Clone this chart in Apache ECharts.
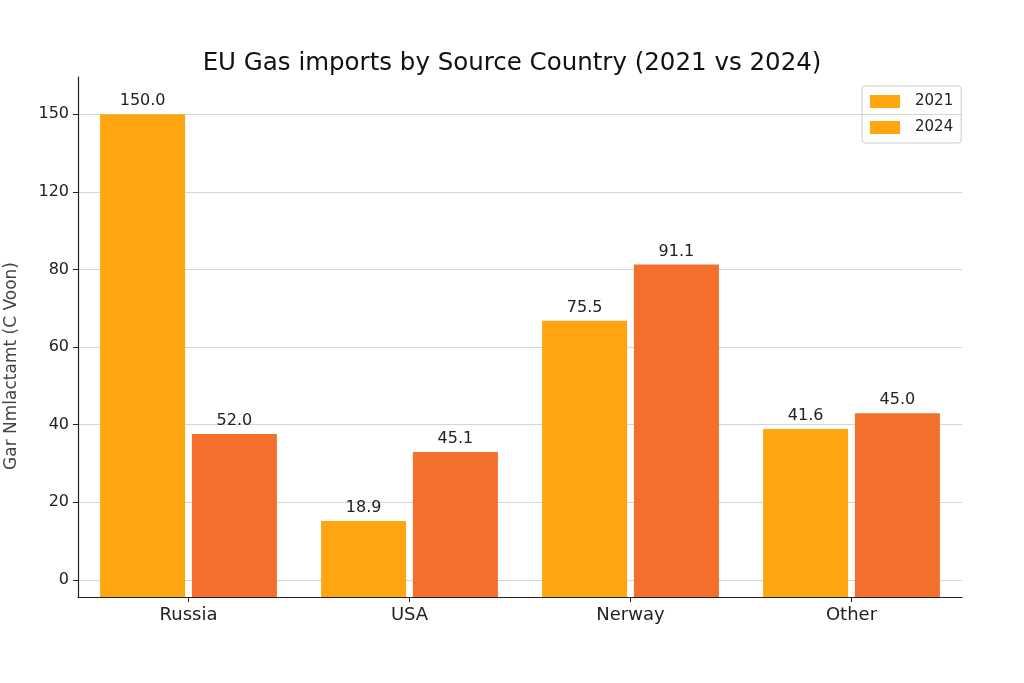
<!DOCTYPE html>
<html>
<head>
<meta charset="utf-8">
<script src="https://cdn.jsdelivr.net/npm/echarts@6/dist/echarts.min.js"></script>
<style>
  html, body { margin: 0; padding: 0; background: #fff; }
  #chart { width: 1024px; height: 683px; }
</style>
</head>
<body>
<div id="chart"></div>
<script>
const countries = ["Russia", "USA", "Nerway", "Other"];
const years = ["2021", "2024"];
const values2021 = [150, 19.0, 83.5, 48.6];
const values2024 = [47.0, 41.2, 101.6, 53.7];
const labels2021 = ["150.0", "18.9", "75.5", "41.6"];
const labels2024 = ["52.0", "45.1", "91.1", "45.0"];
const tickValues = [0, 25, 50, 75, 100, 125, 150];
const tickLabels = ["0", "20", "40", "60", "80", "120", "150"];

const AXIS_MIN = -5.5;
const AXIS_MAX = 162;
const FONT = "DejaVu Sans";
const C2021 = "#fea510";
const C2024 = "#f46e2c";

const chart = echarts.init(document.getElementById("chart"));

const barSeries = (name, values, labels, color) => ({
  name: name,
  type: "bar",
  stack: name,
  data: values,
  barWidth: 85,
  barGap: "8%",
  itemStyle: { color: color },
  label: {
    show: true,
    position: "top",
    distance: 5,
    fontFamily: FONT,
    fontSize: 16,
    color: "#222",
    formatter: (p) => labels[p.dataIndex],
  },
  z: 3,
});

// bars in the picture run down past 0 to the axis bottom
const baseSeries = (name, color) => ({
  name: name + "_base",
  type: "bar",
  stack: name,
  data: countries.map(() => AXIS_MIN),
  barWidth: 85,
  barGap: "8%",
  itemStyle: { color: color },
  silent: true,
  z: 3,
});

const option = {
  animation: false,
  backgroundColor: "#fff",
  title: {
    text: "EU Gas imports by Source Country (2021 vs 2024)",
    left: "center",
    top: 46,
    textStyle: { fontFamily: FONT, fontSize: 24.5, fontWeight: "normal", color: "#111" },
  },
  legend: {
    data: [
      { name: "2021", itemStyle: { color: C2021 } },
      { name: "2024", itemStyle: { color: C2021 } },
    ],
    orient: "vertical",
    left: 862,
    top: 86,
    itemWidth: 30,
    itemHeight: 13,
    itemGap: 11,
    padding: [8, 8, 8, 8],
    borderColor: "#ccc",
    borderWidth: 1,
    borderRadius: 3,
    icon: "rect",
    textStyle: { fontFamily: FONT, fontSize: 15, color: "#222", padding: [0, 0, 0, 10] },
  },
  grid: { left: 78, right: 62, top: 77, bottom: 86, containLabel: false },
  xAxis: {
    type: "category",
    data: countries,
    axisLine: { onZero: false, lineStyle: { color: "#222", width: 1.2 } },
    axisTick: { show: true, alignWithLabel: true, length: 5, lineStyle: { color: "#222" } },
    axisLabel: { fontFamily: FONT, fontSize: 18, color: "#222", margin: 9 },
  },
  yAxis: {
    type: "value",
    min: AXIS_MIN,
    max: AXIS_MAX,
    axisLine: { show: true, lineStyle: { color: "#222", width: 1.2 } },
    axisTick: { show: true, length: 5, customValues: tickValues, lineStyle: { color: "#222" } },
    axisLabel: {
      fontFamily: FONT,
      fontSize: 16,
      color: "#222",
      margin: 9,
      customValues: tickValues,
      formatter: (v) => tickLabels[tickValues.indexOf(Math.round(v))] || "",
    },
    splitLine: { show: true, lineStyle: { color: "#d5d5d5", width: 1 } },
  },
  graphic: [
    {
      type: "text",
      x: 12,
      y: 366,
      rotation: Math.PI / 2,
      style: {
        text: "Gar Nmlactamt (C Voon)",
        fontFamily: FONT,
        fontSize: 17,
        fill: "#444",
        align: "center",
        verticalAlign: "middle",
      },
    },
  ],
  series: [
    barSeries("2021", values2021, labels2021, C2021),
    baseSeries("2021", C2021),
    barSeries("2024", values2024, labels2024, C2024),
    baseSeries("2024", C2024),
  ],
};

chart.setOption(option);
</script>
</body>
</html>
